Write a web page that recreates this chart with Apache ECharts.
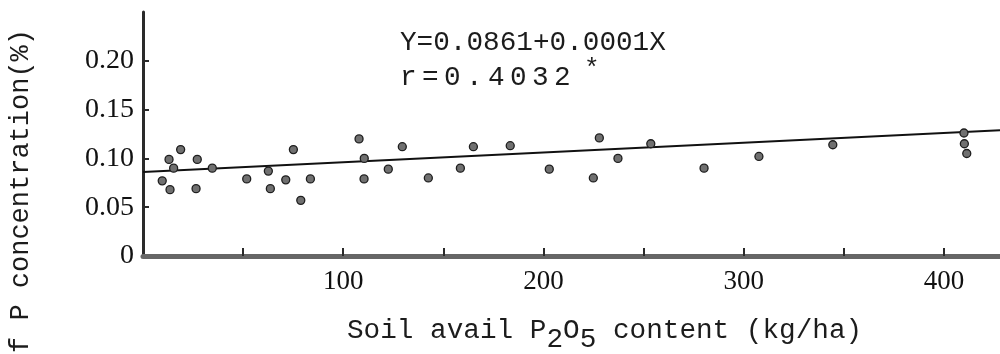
<!DOCTYPE html>
<html>
<head>
<meta charset="utf-8">
<script src="https://cdn.jsdelivr.net/npm/echarts@6/dist/echarts.min.js"></script>
<style>
  html, body { margin: 0; padding: 0; background: #fff; }
  #chart { width: 1000px; height: 354px; }
</style>
</head>
<body>
<div id="chart"></div>
<script>
// Soil available P2O5 (kg/ha) against leaf P concentration (%)
const p2o5 = [
  9.6, 13.5, 13.0, 15.3, 18.8, 26.5, 27.1, 34.6, 51.8, 62.6,
  63.6, 71.3, 75.1, 78.8, 83.6, 107.9, 110.5, 110.4, 122.5, 129.5,
  142.5, 158.5, 165.0, 183.4, 202.9, 224.9, 227.9, 237.2, 253.6, 280.2,
  307.6, 344.5, 410.0, 410.2, 411.4
];
const pConc = [
  0.077, 0.068, 0.099, 0.090, 0.109, 0.069, 0.099, 0.090, 0.079, 0.087,
  0.069, 0.078, 0.109, 0.057, 0.079, 0.120, 0.100, 0.079, 0.089, 0.112,
  0.080, 0.090, 0.112, 0.113, 0.089, 0.080, 0.121, 0.100, 0.115, 0.090,
  0.102, 0.114, 0.126, 0.115, 0.105
];

// Fitted regression Y = a + bX
const intercept = 0.0861;
const slope = 0.0001;
const fitRange = [0, 428];

const xTickValues = [50, 100, 150, 200, 250, 300, 350, 400];
const xLabelValues = [100, 200, 300, 400];
const yTickValues = [0.05, 0.10, 0.15, 0.20];
const yLabelValues = [0, 0.05, 0.10, 0.15, 0.20];
const yLabelText = { 0: '0', 0.05: '0.05', 0.1: '0.10', 0.15: '0.15', 0.2: '0.20' };

const points = p2o5.map((x, i) => [x, pConc[i]]);
const fitLine = fitRange.map(x => [x, intercept + slope * x]);

const MONO = '"Liberation Mono", "DejaVu Sans Mono", monospace';
const SERIF = '"Liberation Serif", "DejaVu Serif", serif';
const INK = '#1c1c1c';

const chart = echarts.init(document.getElementById('chart'), null, { renderer: 'canvas' });

// x-axis title typed with subscripts: each piece placed on a fixed monospace pitch
const tSize = 27.7;
const cw = tSize * 0.6;
const tx0 = 347, ty = 331, tSub = 9;
const titlePieces = [
  { s: 'Soil avail P', col: 0, sub: false },
  { s: '2', col: 12, sub: true },
  { s: 'O', col: 13, sub: false },
  { s: '5', col: 14, sub: true },
  { s: ' content (kg/ha)', col: 15, sub: false }
];

// correlation line is typed on a slightly wider pitch
const rText = 'r=0.4032';
const rRich = rText.split('').map(c => '{c|' + c + '}').join('');

chart.setOption({
  animation: false,
  backgroundColor: '#ffffff',
  grid: { left: 143, right: 0, top: 12, bottom: 98 },
  xAxis: {
    type: 'value',
    min: 0,
    max: 428,
    axisLine: { show: true, lineStyle: { color: '#666', width: 5 } },
    axisTick: {
      show: true, inside: true, length: 8, customValues: xTickValues,
      lineStyle: { color: '#2a2a2a', width: 2 }
    },
    axisLabel: {
      customValues: xLabelValues,
      margin: 12,
      fontFamily: SERIF, fontSize: 27, color: '#111'
    },
    splitLine: { show: false }
  },
  yAxis: {
    type: 'value',
    min: 0,
    max: 0.25,
    axisLine: { show: true, lineStyle: { color: '#2a2a2a', width: 3 } },
    axisTick: {
      show: true, inside: true, length: 6, customValues: yTickValues,
      lineStyle: { color: '#2a2a2a', width: 2 }
    },
    axisLabel: {
      customValues: yLabelValues,
      margin: 9,
      fontFamily: SERIF, fontSize: 28, color: '#111',
      formatter: v => yLabelText[Math.round(v * 100) / 100]
    },
    splitLine: { show: false }
  },
  series: [
    {
      type: 'line',
      data: fitLine,
      symbol: 'none',
      lineStyle: { color: '#111', width: 2 },
      z: 2
    },
    {
      type: 'scatter',
      data: points,
      symbol: 'circle',
      symbolSize: 8,
      itemStyle: { color: '#707070', borderColor: '#1e1e1e', borderWidth: 1.3, opacity: 1 },
      z: 3
    }
  ],
  graphic: [
    {
      type: 'text', left: 400, top: 29,
      style: { text: 'Y=0.0861+0.0001X', font: '27.7px ' + MONO, fill: INK }
    },
    {
      type: 'text', left: 400, top: 64,
      style: {
        text: rRich, fill: INK,
        rich: { c: { width: 22, align: 'left', fontFamily: MONO, fontSize: 27.7, fill: INK } }
      }
    },
    {
      type: 'text', left: 584, top: 56,
      style: { text: '*', font: '26px ' + MONO, fill: INK }
    },
    {
      type: 'text', x: 21, y: 191, rotation: Math.PI / 2,
      style: {
        text: 'f P concentration(%)', font: '27px ' + MONO, fill: INK,
        align: 'center', verticalAlign: 'middle'
      }
    }
  ].concat(titlePieces.map(p => ({
    type: 'text',
    x: tx0 + p.col * cw,
    y: ty + (p.sub ? tSub : 0),
    style: { text: p.s, font: tSize + 'px ' + MONO, fill: INK, verticalAlign: 'middle' }
  })))
});
</script>
</body>
</html>
